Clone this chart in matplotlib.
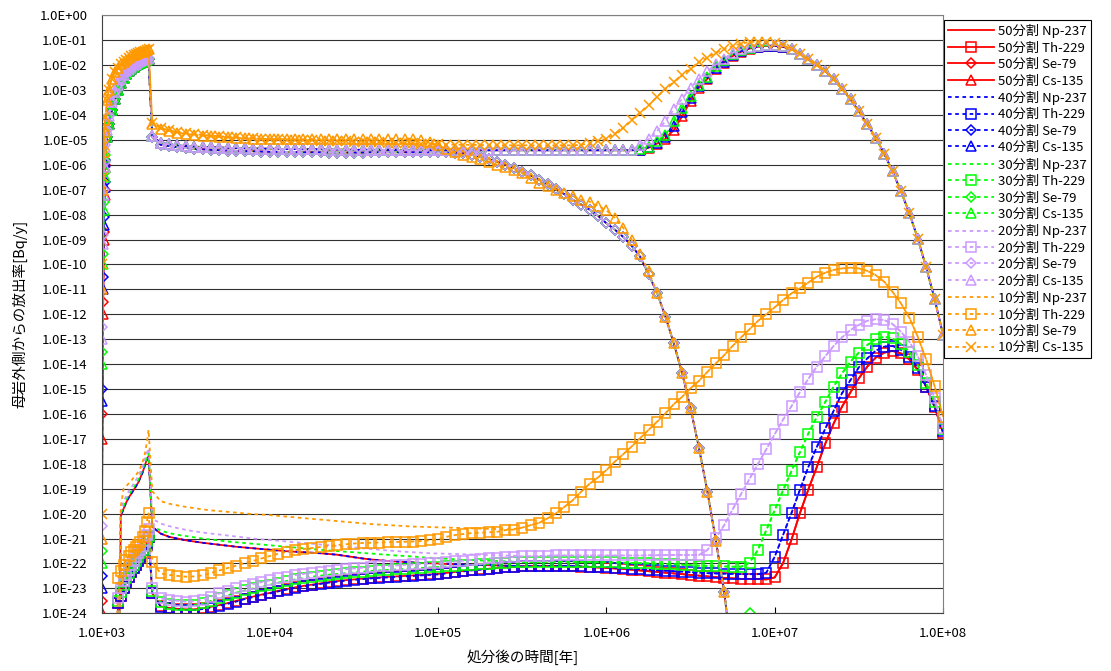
import numpy as np
import matplotlib
matplotlib.use("Agg")
import matplotlib.pyplot as plt
from matplotlib.ticker import FixedLocator, FuncFormatter, NullLocator

plt.rcParams['font.family'] = ['Noto Sans CJK JP', 'DejaVu Sans']

nan = np.nan

# time grid [years]
t_early = [1000, 1010, 1020, 1030, 1040, 1050, 1075, 1100, 1150, 1200, 1250, 1300,
           1350, 1400, 1450, 1500, 1550, 1600, 1650, 1700, 1750, 1800, 1850, 1900]
mant = [1.0, 1.12, 1.26, 1.41, 1.58, 1.78, 2.0, 2.24, 2.51, 2.82,
        3.16, 3.55, 3.98, 4.47, 5.01, 5.62, 6.31, 7.08, 7.94, 8.91]
t_late = [2000] + [m * 1e3 for m in mant[7:]] + \
         [m * 10 ** d for d in (4, 5, 6, 7) for m in mant] + [1e8]
t = np.array(t_early + t_late, dtype=float)

# ---- values as log10(Bq/y) ----
# Np-237 (early part 1000-1900, then middle part 2000-2.8e5; later it follows Th-229)
np_early_a = [None] * 10 + [-30, -20.1, -19.8, -19.55, -19.35, -19.2, -19.05, -18.9,
                            -18.75, -18.55, -18.35, -18.1, -17.85, -17.69]
np_early_30 = [None] * 10 + [-30, -20.0, -19.7, -19.45, -19.25, -19.1, -18.95, -18.8,
                             -18.65, -18.45, -18.25, -18.0, -17.8, -17.58]
np_early_20 = [None] * 10 + [-30, -19.9, -19.5, -19.3, -19.1, -18.95, -18.8, -18.65,
                             -18.5, -18.3, -18.1, -17.85, -17.6, -17.38]
np_early_10 = [None] * 10 + [-30, -19.7, -19.0, -18.9, -18.78, -18.68, -18.55, -18.45,
                             -18.32, -18.15, -17.95, -17.65, -17.2, -16.64]

np_mid_50 = [-20.53, -20.8, -20.93, -21.0, -21.07, -21.12, -21.17, -21.21, -21.25, -21.29,
             -21.33, -21.36, -21.39, -21.42,
             -21.45, -21.48, -21.51, -21.53, -21.55, -21.57, -21.59, -21.62, -21.65, -21.7,
             -21.75, -21.8, -21.84, -21.87, -21.9, -21.92, -21.94, -21.96, -21.98, -21.99,
             -22.0, -22.02, -22.03, -22.04, -22.05, -22.06, -22.07, -22.08, -22.09, -22.1]
np_mid_30 = [-20.5, -20.68, -20.78, -20.85, -20.9, -20.95, -21.0, -21.04, -21.08, -21.12,
             -21.15, -21.18, -21.21, -21.24,
             -21.27, -21.3, -21.33, -21.36, -21.39, -21.42, -21.45, -21.48, -21.5, -21.53,
             -21.55, -21.58, -21.6, -21.63, -21.65, -21.68, -21.7, -21.72, -21.75, -21.77,
             -21.79, -21.81, -21.83, -21.85, -21.87, -21.88, -21.89, -21.9, -21.91, -21.92]
np_mid_20 = [-20.2, -20.4, -20.5, -20.58, -20.65, -20.71, -20.76, -20.8, -20.84, -20.88,
             -20.92, -20.96, -21.0, -21.03,
             -21.06, -21.09, -21.12, -21.15, -21.18, -21.21, -21.24, -21.27, -21.3, -21.33,
             -21.36, -21.39, -21.42, -21.45, -21.48, -21.5, -21.53, -21.55, -21.57, -21.59,
             -21.6, -21.61, -21.62, -21.63, -21.64, -21.65, -21.66, -21.67, -21.68, -21.69]
np_mid_10 = [-19.1, -19.5, -19.6, -19.67, -19.73, -19.78, -19.83, -19.87, -19.9, -19.93,
             -19.96, -19.99, -20.02, -20.04,
             -20.06, -20.09, -20.12, -20.15, -20.18, -20.21, -20.24, -20.27, -20.3, -20.33,
             -20.36, -20.39, -20.42, -20.44, -20.46, -20.48, -20.5, -20.52, -20.53, -20.54,
             -20.55, -20.56, -20.57, -20.58, -20.59, -20.6, -20.61, -20.62, -20.63, -20.62]

# Th-229
th_early_a = [None] * 9 + [-30, -23.6, -23.3, -23.0, -22.75, -22.55, -22.35, -22.2, -22.05,
                           -21.9, -21.75, -21.6, -21.45, -21.25, -20.95]
th_early_30 = [None] * 9 + [-30, -23.5, -23.15, -22.85, -22.6, -22.4, -22.2, -22.05, -21.9,
                            -21.75, -21.6, -21.45, -21.3, -21.1, -20.9]
th_early_20 = [None] * 9 + [-30, -23.4, -23.0, -22.7, -22.45, -22.25, -22.05, -21.9, -21.75,
                            -21.6, -21.45, -21.3, -21.1, -20.85, -20.6]
th_early_10 = [None] * 9 + [-30, -22.6, -22.3, -22.05, -21.85, -21.7, -21.55, -21.45, -21.35,
                            -21.25, -21.15, -20.95, -20.7, -20.35, -19.99]

th50_late = [-23.2, -23.72, -23.78, -23.82, -23.84, -23.84, -23.8, -23.74, -23.67, -23.59,
             -23.5, -23.41, -23.33, -23.25,
             -23.18, -23.1, -23.03, -22.96, -22.9, -22.85, -22.8, -22.75, -22.71, -22.67,
             -22.64, -22.61, -22.58, -22.56, -22.54, -22.52, -22.5, -22.48, -22.46, -22.44,
             -22.42, -22.38, -22.34, -22.3, -22.27, -22.24, -22.21, -22.18, -22.16, -22.14,
             -22.12, -22.11, -22.1, -22.1, -22.1, -22.11, -22.12, -22.13, -22.14, -22.16,
             -22.18, -22.2, -22.22, -22.25, -22.28, -22.31, -22.34, -22.37, -22.4, -22.43,
             -22.46, -22.49, -22.52, -22.55, -22.58, -22.6, -22.62, -22.62, -22.62, -22.64,
             -22.56, -21.99, -21.03, -19.99, -19.05, -18.12, -17.18, -16.38, -15.71, -15.13,
             -14.57, -14.1, -13.74, -13.54, -13.47, -13.57, -13.81, -14.24, -14.91, -15.71, -16.75]
th40_late = [-23.2, -23.73, -23.8, -23.85, -23.87, -23.87, -23.83, -23.77, -23.7, -23.62,
             -23.53, -23.43, -23.35, -23.27,
             -23.2, -23.12, -23.05, -22.98, -22.92, -22.87, -22.82, -22.77, -22.73, -22.69,
             -22.66, -22.63, -22.6, -22.58, -22.56, -22.54, -22.52, -22.5, -22.48, -22.46,
             -22.44, -22.4, -22.36, -22.32, -22.28, -22.25, -22.22, -22.19, -22.16, -22.14,
             -22.12, -22.11, -22.1, -22.1, -22.1, -22.1, -22.11, -22.12, -22.13, -22.14,
             -22.15, -22.17, -22.19, -22.21, -22.23, -22.25, -22.27, -22.29, -22.31, -22.33,
             -22.35, -22.37, -22.39, -22.4, -22.41, -22.42, -22.43, -22.43, -22.43, -22.37,
             -21.73, -20.86, -19.96, -19.05, -18.14, -17.32, -16.58, -15.87, -15.17, -14.64,
             -14.13, -13.77, -13.46, -13.3, -13.27, -13.43, -13.7, -14.17, -14.91, -15.7, -16.7]
th30_late = [-23.1, -23.55, -23.62, -23.66, -23.68, -23.67, -23.6, -23.5, -23.38, -23.27,
             -23.17, -23.08, -23.0, -22.92,
             -22.85, -22.77, -22.7, -22.64, -22.58, -22.53, -22.49, -22.45, -22.42, -22.39,
             -22.36, -22.33, -22.3, -22.28, -22.26, -22.24, -22.22, -22.2, -22.18, -22.16,
             -22.14, -22.12, -22.1, -22.08, -22.06, -22.04, -22.02, -22.0, -21.98, -21.96,
             -21.95, -21.94, -21.93, -21.93, -21.93, -21.93, -21.93, -21.94, -21.94, -21.95,
             -21.95, -21.96, -21.97, -21.98, -21.99, -22.0, -22.01, -22.02, -22.03, -22.05,
             -22.07, -22.09, -22.1, -22.11, -22.12, -22.13, -22.13, -21.97, -21.46, -20.66,
             -19.86, -19.06, -18.28, -17.54, -16.8, -16.12, -15.51, -14.9, -14.37, -13.9,
             -13.54, -13.23, -13.01, -12.9, -12.97, -13.2, -13.5, -14.04, -14.77, -15.51, -16.6]
th20_late = [-23.0, -23.4, -23.47, -23.5, -23.53, -23.52, -23.45, -23.33, -23.2, -23.1,
             -23.0, -22.92, -22.83, -22.75,
             -22.68, -22.6, -22.53, -22.47, -22.42, -22.37, -22.33, -22.29, -22.26, -22.23,
             -22.2, -22.17, -22.14, -22.12, -22.1, -22.08, -22.06, -22.04, -22.02, -22.0,
             -21.98, -21.95, -21.92, -21.89, -21.86, -21.83, -21.8, -21.78, -21.76, -21.74,
             -21.72, -21.71, -21.7, -21.69, -21.68, -21.68, -21.68, -21.68, -21.68, -21.68,
             -21.68, -21.68, -21.68, -21.68, -21.68, -21.67, -21.67, -21.66, -21.66, -21.66,
             -21.66, -21.66, -21.46, -20.99, -20.46, -19.83, -19.21, -18.61, -18.01, -17.42,
             -16.81, -16.23, -15.68, -15.13, -14.6, -14.1, -13.68, -13.27, -12.93, -12.63,
             -12.43, -12.26, -12.2, -12.23, -12.39, -12.7, -13.1, -13.68, -14.44, -15.37, -16.55]
th10_late = [-21.93, -22.4, -22.46, -22.5, -22.53, -22.52, -22.48, -22.38, -22.28, -22.18,
             -22.09, -21.98, -21.9, -21.8,
             -21.7, -21.61, -21.53, -21.47, -21.42, -21.38, -21.34, -21.3, -21.26, -21.23,
             -21.2, -21.18, -21.17, -21.16, -21.15, -21.14, -21.13, -21.12, -21.1, -21.07,
             -21.03, -20.93, -20.86, -20.82, -20.78, -20.77, -20.75, -20.73, -20.66, -20.64,
             -20.56, -20.46, -20.37, -20.19, -19.99, -19.73, -19.46, -19.12, -18.8, -18.55,
             -18.25, -17.92, -17.61, -17.31, -16.98, -16.64, -16.31, -15.98, -15.61, -15.31,
             -14.97, -14.67, -14.31, -13.97, -13.64, -13.27, -12.93, -12.6, -12.27, -12.0,
             -11.72, -11.43, -11.16, -10.96, -10.73, -10.49, -10.33, -10.22, -10.16, -10.13,
             -10.16, -10.26, -10.43, -10.69, -11.1, -11.56, -12.14, -12.9, -13.81, -14.88, -16.11]

# Se-79 / Cs-135 first rise (1000-1050 per series, 1075-1900 per division)
head_cs50 = [-24.0, -17, -12, -9, -7.2, -6.1]
head_se50 = [-23.5, -16, -11.5, -8.7, -7.0, -6.0]
head_cs40 = [-23, -15.5, -11, -8.4, -6.9, -5.9]
head_se40 = [-22.5, -15, -10.5, -8.1, -6.7, -5.8]
head_cs30 = [-22, -14, -10, -7.8, -6.5, -5.7]
head_se30 = [-21.5, -13.5, -9.6, -7.5, -6.3, -5.6]
head_cs20 = [-21, -13, -9.2, -7.2, -6.1, -5.3]
head_se20 = [-20.5, -12.5, -8.8, -7.0, -5.9, -5.2]
head_cs10 = [-20, -10, -6.5, -5.2, -4.5, -4.1]
head_se10 = [-21, -11, -7, -5.5, -4.7, -4.2]
body_a = [-4.9, -4.35, -3.8, -3.35, -3.0, -2.72, -2.52, -2.37, -2.25, -2.15, -2.07,
          -2.01, -1.96, -1.91, -1.87, -1.83, -1.79, -1.75]
body_20 = [-4.6, -4.05, -3.5, -3.1, -2.8, -2.56, -2.39, -2.25, -2.14, -2.06, -1.99,
           -1.94, -1.89, -1.85, -1.81, -1.77, -1.74, -1.7]
body_10 = [-3.4, -3.0, -2.55, -2.28, -2.1, -1.96, -1.86, -1.78, -1.71, -1.65, -1.6,
           -1.56, -1.52, -1.49, -1.46, -1.43, -1.4, -1.37]

# Se-79 after 2000 y
se_late = [-4.9, -5.2, -5.25, -5.3, -5.33, -5.36, -5.38, -5.4, -5.42, -5.43, -5.44, -5.45,
           -5.46, -5.47,
           -5.48, -5.48, -5.49, -5.49, -5.5, -5.5, -5.5, -5.51, -5.51, -5.51, -5.51, -5.51,
           -5.5, -5.5, -5.5, -5.5, -5.5, -5.5, -5.5, -5.5,
           -5.5, -5.5, -5.51, -5.53, -5.6, -5.68, -5.77, -5.88, -6.0, -6.13, -6.28, -6.43,
           -6.6, -6.78, -6.97, -7.18, -7.4, -7.6, -7.8, -8.05,
           -8.35, -8.6, -8.9, -9.25, -9.67, -10.4, -11.15, -12.09, -13.16, -14.37, -15.77,
           -17.38, -19.12, -21.09, -23.14, -26.0]
se10_late = [-4.35, -4.55, -4.65, -4.71, -4.76, -4.8, -4.83, -4.86, -4.88, -4.9, -4.92,
             -4.94, -4.95, -4.96,
             -4.97, -4.97, -4.98, -4.98, -4.98, -4.98, -4.98, -4.98, -4.98, -4.98, -4.98,
             -4.98, -4.98, -4.98, -4.98, -4.98, -4.98, -4.98, -5.02, -5.1,
             -5.22, -5.36, -5.5, -5.62, -5.7, -5.76, -5.88, -6.0, -6.1, -6.2, -6.35, -6.55,
             -6.73, -6.86, -7.0, -7.15, -7.26, -7.4, -7.48, -7.65,
             -7.83, -8.13, -8.54, -9.0, -9.57, -10.28]
se30_extra = [None, -23.97]

# Cs-135 after 2000 y
cs_plateau = [-4.85, -5.12, -5.18, -5.22, -5.25, -5.27, -5.29, -5.3, -5.31, -5.32, -5.33,
              -5.34, -5.35, -5.35,
              -5.36, -5.36, -5.37, -5.37, -5.38, -5.38, -5.38, -5.39, -5.39, -5.39, -5.4,
              -5.4, -5.4, -5.4, -5.41, -5.41, -5.41, -5.41, -5.42, -5.42,
              -5.42, -5.42, -5.42, -5.42, -5.42, -5.42, -5.42, -5.42, -5.42, -5.42, -5.42,
              -5.42, -5.42, -5.42, -5.42, -5.42, -5.42, -5.42, -5.42, -5.42,
              -5.42, -5.42, -5.42, -5.42]
cs50_rise = [-5.4, -5.32, -5.15, -4.96, -4.61, -4.05, -3.44, -2.91, -2.55, -2.17, -1.9,
             -1.64, -1.47, -1.34, -1.27, -1.23, -1.23, -1.27, -1.37]
cs40_rise = [-5.4, -5.3, -5.12, -4.9, -4.45, -3.9, -3.33, -2.84, -2.5, -2.12, -1.86,
             -1.6, -1.44, -1.32, -1.26, -1.22, -1.22, -1.26, -1.36]
cs30_rise = [-5.38, -5.27, -5.05, -4.82, -4.25, -3.71, -3.24, -2.81, -2.46, -2.04, -1.81,
             -1.54, -1.4, -1.3, -1.24, -1.21, -1.21, -1.25, -1.36]
cs20_rise = [-5.19, -4.98, -4.65, -4.25, -3.78, -3.35, -2.91, -2.55, -2.24, -1.97, -1.74,
             -1.5, -1.37, -1.28, -1.22, -1.19, -1.19, -1.23, -1.35]
cs10_late = [-4.31, -4.52, -4.62, -4.68, -4.73, -4.77, -4.8, -4.83, -4.86, -4.88, -4.9,
             -4.92, -4.94, -4.96,
             -4.97, -4.98, -4.99, -5.0, -5.01, -5.02, -5.03, -5.04, -5.05, -5.06, -5.07,
             -5.08, -5.09, -5.1, -5.11, -5.12, -5.13, -5.14, -5.15, -5.16,
             -5.18, -5.19, -5.19, -5.2, -5.2, -5.21, -5.21, -5.21, -5.22, -5.22, -5.22,
             -5.22, -5.22, -5.22, -5.22, -5.22, -5.22, -5.2, -5.13, -5.05,
             -4.95, -4.76, -4.52, -4.2, -3.91, -3.62, -3.27, -2.95, -2.68, -2.41, -2.14,
             -1.88, -1.7, -1.5, -1.37, -1.23, -1.14, -1.07, -1.06, -1.06,
             -1.1, -1.19, -1.37]
cs_tail = [-1.54, -1.77, -2.01, -2.24, -2.57, -2.95, -3.38, -3.85, -4.38, -4.92, -5.55,
           -6.26, -7.06, -7.95, -8.96, -10.12, -11.38, -12.82]

series = {
    50: [np_early_a + np_mid_50 + th50_late[44:], th_early_a + th50_late,
         head_se50 + body_a + se_late,
         head_cs50 + body_a + cs_plateau + cs50_rise + cs_tail],
    40: [np_early_a + np_mid_50 + th40_late[44:], th_early_a + th40_late,
         head_se40 + body_a + se_late,
         head_cs40 + body_a + cs_plateau + cs40_rise + cs_tail],
    30: [np_early_30 + np_mid_30 + th30_late[44:], th_early_30 + th30_late,
         head_se30 + body_a + se_late + se30_extra,
         head_cs30 + body_a + cs_plateau + cs30_rise + cs_tail],
    20: [np_early_20 + np_mid_20 + th20_late[44:], th_early_20 + th20_late,
         head_se20 + body_20 + se_late,
         head_cs20 + body_20 + cs_plateau + cs20_rise + cs_tail],
    10: [np_early_10 + np_mid_10 + th10_late[44:], th_early_10 + th10_late,
         head_se10 + body_10 + se10_late + se_late[60:],
         head_cs10 + body_10 + cs10_late + cs_tail],
}
nuclides = ["Np-237", "Th-229", "Se-79", "Cs-135"]
colors = {50: "#FF0000", 40: "#0000FF", 30: "#00FF00", 20: "#CC99FF", 10: "#FF9900"}

fig = plt.figure(figsize=(11.11, 6.71), dpi=100)
ax = fig.add_axes([0.0915, 0.086, 0.7573, 0.8913])

for div in (50, 40, 30, 20, 10):
    c = colors[div]
    ls = "-" if div == 50 else (0, (2, 2))
    marks = [None, "s", "^" if div == 10 else "D", "x" if div == 10 else "^"]
    sizes = [0, 6.5, 6.5 if div == 10 else 4.8, 7.5 if div == 10 else 6.5]
    for nuc, vals, mk, ms in zip(nuclides, series[div], marks, sizes):
        v = np.array([nan if a is None else a for a in vals], dtype=float)
        ax.plot(t[:len(v)], 10.0 ** v, color=c, linestyle=ls, lw=1.3,
                marker=mk, markersize=ms, markerfacecolor="none",
                markeredgecolor=c, markeredgewidth=1.1,
                label=f"{div}分割 {nuc}")

ax.set_xscale("log")
ax.set_yscale("log")
ax.set_xlim(1e3, 1e8)
ax.set_ylim(1e-24, 1)

fmt = FuncFormatter(lambda v, p: "1.0E%+03d" % int(round(np.log10(v))))
ax.xaxis.set_major_locator(FixedLocator([10.0 ** e for e in range(3, 9)]))
ax.yaxis.set_major_locator(FixedLocator([10.0 ** e for e in range(-24, 1)]))
ax.xaxis.set_minor_locator(NullLocator())
ax.yaxis.set_minor_locator(NullLocator())
ax.xaxis.set_major_formatter(fmt)
ax.yaxis.set_major_formatter(fmt)
ax.tick_params(axis="x", direction="in", length=4, pad=10, labelsize=9.5)
ax.tick_params(axis="y", length=0, pad=10, labelsize=9.5)
ax.yaxis.grid(True, color="#303030", lw=0.8)
ax.set_axisbelow(True)
for s in ("top", "right"):
    ax.spines[s].set_color("#808080")
for s in ("bottom", "left"):
    ax.spines[s].set_color("#404040")

ax.set_xlabel("処分後の時間[年]", fontsize=10.5, labelpad=7)
ax.set_ylabel("母岩外側からの放出率[Bq/y]", fontsize=10.5, labelpad=9)

leg = ax.legend(loc="upper left", bbox_to_anchor=(0.8497, 0.970),
                bbox_transform=fig.transFigure, fontsize=9.5, frameon=True,
                fancybox=False, edgecolor="black", framealpha=1,
                borderaxespad=0, borderpad=0.3, labelspacing=0.26,
                handlelength=3.5, handletextpad=0.3, numpoints=1)
leg.get_frame().set_linewidth(0.8)

fig.savefig("out.png", dpi=100)
